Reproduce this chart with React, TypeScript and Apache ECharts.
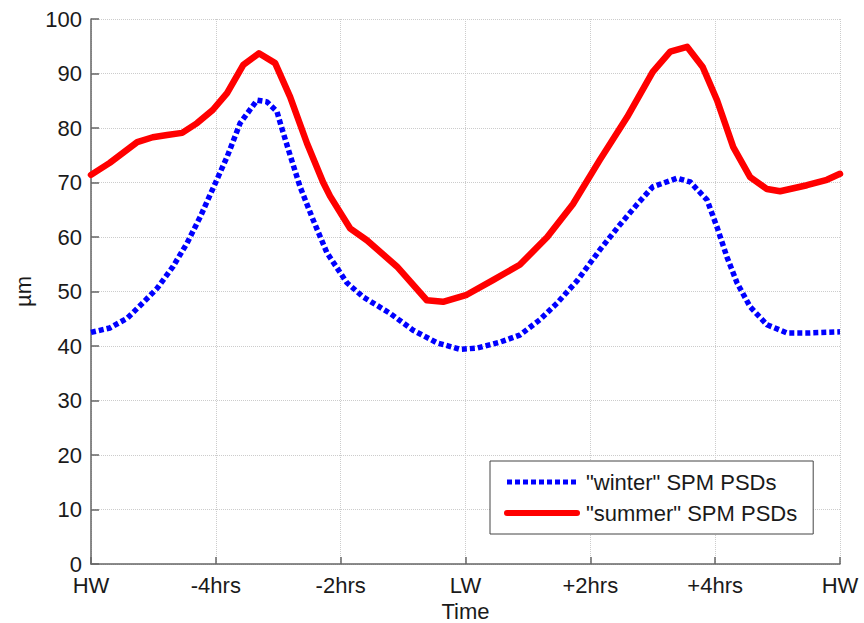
import React, { useEffect, useRef } from "react";
import * as echarts from "echarts";

// x positions in hours relative to low water (HW = ±6)
const xTickHours = [-6, -4, -2, 0, 2, 4, 6];
const xTickLabels = ["HW", "-4hrs", "-2hrs", "LW", "+2hrs", "+4hrs", "HW"];

const winterHours = [
  -6.0, -5.7, -5.42, -5.17, -4.94, -4.69, -4.46, -4.25, -4.14, -3.82, -3.61, -3.34, -3.18, -3.02,
  -2.97, -2.81, -2.65, -2.44, -2.22, -1.9, -1.64, -1.21, -0.84, -0.46, -0.09, 0.18, 0.55, 0.87,
  1.19, 1.47, 1.79, 2.15, 2.47, 2.75, 3.0, 3.39, 3.6, 3.87, 4.03, 4.19, 4.35, 4.56, 4.83, 5.15,
  5.52, 6.0,
];
const winterValues = [
  42.5, 43.3, 45.1, 47.9, 50.6, 54.5, 58.9, 63.7, 66.5, 74.7, 80.9, 85.1, 84.8, 83.0,
  81.0, 75.0, 69.2, 63.1, 57.1, 51.6, 49.0, 46.0, 42.9, 40.6, 39.4, 39.6, 40.7, 42.0,
  44.8, 47.9, 52.0, 57.6, 62.2, 66.0, 69.2, 70.8, 70.1, 66.8, 61.8, 56.3, 51.6, 47.2, 43.9, 42.4,
  42.4, 42.6,
];

const summerHours = [
  -6.0, -5.7, -5.26, -5.01, -4.78, -4.54, -4.3, -4.05, -3.82, -3.56, -3.31, -3.05, -2.81, -2.54,
  -2.28, -2.17, -1.85, -1.58, -1.1, -0.62, -0.36, 0.02, 0.44, 0.87, 1.31, 1.72, 2.15, 2.59, 3.0,
  3.28, 3.55, 3.8, 4.03, 4.29, 4.56, 4.83, 5.04, 5.47, 5.79, 6.0,
];
const summerValues = [
  71.4, 73.6, 77.4, 78.3, 78.7, 79.1, 80.9, 83.3, 86.4, 91.6, 93.7, 91.9, 85.7, 77.2,
  70.0, 67.5, 61.6, 59.4, 54.6, 48.4, 48.1, 49.4, 52.1, 54.9, 60.0, 66.0, 74.1, 82.0, 90.3,
  94.0, 94.9, 91.2, 85.1, 76.5, 71.0, 68.8, 68.4, 69.5, 70.5, 71.6,
];

const FONT = "'Liberation Sans', Arial, Helvetica, sans-serif";
const TEXT = "#1a1a1a";
const AXIS = "#666666";
const GRID = "#cccccc";
const FS = 22;

export default function App() {
  const ref = useRef<HTMLDivElement>(null);

  useEffect(() => {
    document.body.style.margin = "0";
    if (!ref.current) return;
    const chart = echarts.init(ref.current, undefined, { renderer: "svg" });

    const labelFor = (v: number) => {
      const i = xTickHours.indexOf(Math.round(v));
      return i >= 0 ? xTickLabels[i] : "";
    };

    chart.setOption({
      animation: false,
      backgroundColor: "#ffffff",
      textStyle: { fontFamily: FONT },
      grid: { left: 91, top: 19, right: 24, bottom: 59, containLabel: false, outerBoundsMode: "none" },
      legend: {
        orient: "vertical",
        left: 490,
        top: 461,
        padding: [10, 16, 10, 14],
        itemWidth: 70,
        itemHeight: 14,
        itemGap: 9,
        borderColor: "#444444",
        borderWidth: 1,
        backgroundColor: "#ffffff",
        textStyle: { fontFamily: FONT, fontSize: FS, color: TEXT, lineHeight: 22, padding: [0, 0, 0, 4] },
        data: [
          {
            name: '"winter" SPM PSDs',
            itemStyle: { opacity: 0 },
            lineStyle: { width: 5, type: [5, 3], color: "#0000ff", cap: "butt" },
          },
          {
            name: '"summer" SPM PSDs',
            itemStyle: { opacity: 0 },
            lineStyle: { width: 6, color: "#ff0000" },
          },
        ],
      },
      xAxis: {
        type: "value",
        min: -6,
        max: 6,
        interval: 2,
        name: "Time",
        nameLocation: "middle",
        nameGap: 37,
        nameTextStyle: { fontFamily: FONT, fontSize: FS, color: TEXT, lineHeight: 20 },
        axisLine: { show: true, onZero: false, lineStyle: { color: AXIS, width: 1.5 } },
        axisTick: { show: true, inside: true, length: 7, lineStyle: { color: AXIS, width: 1.5 } },
        axisLabel: { fontFamily: FONT, fontSize: FS, color: TEXT, margin: 12, lineHeight: 18, formatter: labelFor },
        splitLine: { show: true, lineStyle: { color: GRID, type: "dotted", width: 1 } },
      },
      yAxis: {
        type: "value",
        min: 0,
        max: 100,
        interval: 10,
        name: "µm",
        nameLocation: "middle",
        nameGap: 54,
        nameTextStyle: { fontFamily: FONT, fontSize: FS, color: TEXT },
        axisLine: { show: true, onZero: false, lineStyle: { color: AXIS, width: 1.5 } },
        axisTick: { show: true, inside: true, length: 8, lineStyle: { color: AXIS, width: 1.5 } },
        axisLabel: { fontFamily: FONT, fontSize: FS, color: TEXT, margin: 9, lineHeight: 18 },
        splitLine: { show: true, lineStyle: { color: GRID, type: "dotted", width: 1 } },
      },
      series: [
        {
          name: '"winter" SPM PSDs',
          type: "line",
          showSymbol: false,
          symbol: "none",
          data: winterHours.map((h, i) => [h, winterValues[i]]),
          lineStyle: { color: "#0000ff", width: 5.5, type: [5, 3], cap: "butt", join: "round" },
          itemStyle: { color: "#0000ff" },
        },
        {
          name: '"summer" SPM PSDs',
          type: "line",
          showSymbol: false,
          symbol: "none",
          data: summerHours.map((h, i) => [h, summerValues[i]]),
          lineStyle: { color: "#ff0000", width: 6.5, cap: "round", join: "round" },
          itemStyle: { color: "#ff0000" },
        },
      ],
    });

    return () => chart.dispose();
  }, []);

  return <div ref={ref} style={{ width: 864, height: 623 }} />;
}
